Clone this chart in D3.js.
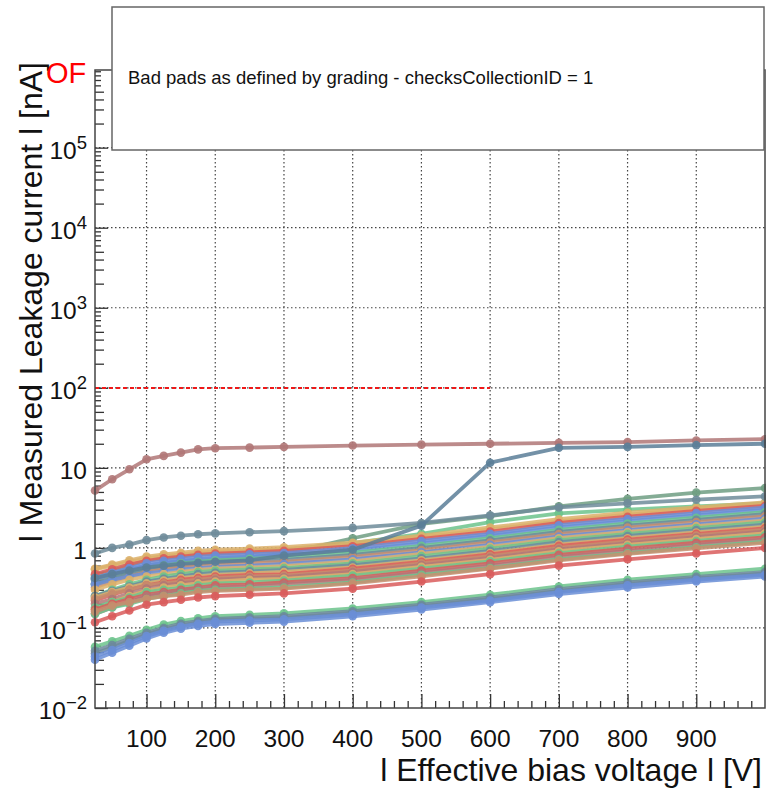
<!DOCTYPE html>
<html>
<head>
<meta charset="UTF-8"/>
<title>Bad pads leakage current</title>
<script src="https://d3js.org/d3.v7.min.js"></script>
<style>
  body { margin: 0; background: #fff; }
  svg { display: block; font-family: "Liberation Sans", Arial, Helvetica, sans-serif; }
  .ticks line { stroke: #333; stroke-width: 1.3; }
  .ticks .domain { display: none; }
  .grid line { stroke: #444; stroke-width: 1.2; stroke-dasharray: 1.5 2.5; }
  .tlabel { font-size: 24.5px; fill: #111; }
  .title { font-size: 32px; fill: #111; }
  .curve { fill: none; stroke-width: 3.8; stroke-opacity: 0.85; stroke-linejoin: round; }
  .dot { fill-opacity: 0.9; }
</style>
</head>
<body>
<svg width="766" height="790"></svg>
<script>
// bias voltages of every scan point [V]
const voltages = [25, 50, 75, 100, 125, 150, 175, 200, 250, 300, 400, 500, 600, 700, 800, 900, 1000];

// special pads
const padRose = [5.2, 7.2, 9.6, 12.8, 14.1, 15.5, 17.0, 17.6, 17.9, 18.3, 19.0, 19.5, 20.0, 20.5, 21.0, 22.0, 22.8];
const padJump = [0.42, 0.47, 0.52, 0.57, 0.6, 0.63, 0.65, 0.67, 0.7, 0.8, 0.95, 1.9, 11.6, 17.8, 18.3, 19.2, 20.0];
const padSlateTop = [0.85, 1.0, 1.1, 1.25, 1.35, 1.42, 1.48, 1.52, 1.57, 1.62, 1.78, 2.05, 2.55, 3.2, 3.6, 4.0, 4.4];
const padGreenRise = [0.4, 0.46, 0.52, 0.6, 0.64, 0.68, 0.7, 0.72, 0.76, 0.85, 1.32, 2.0, 2.5, 3.3, 4.1, 4.9, 5.6];
const padGreenRise2 = [0.45, 0.52, 0.6, 0.7, 0.75, 0.8, 0.84, 0.86, 0.9, 0.95, 1.15, 1.5, 2.1, 2.7, 3.0, 3.3, 3.6];

// main bundle
const bundleColors = ['tan', 'tan', 'red', 'blue', 'blue', 'green', 'slate', 'brown', 'blue', 'tan', 'green', 'slate',
  'tan', 'red', 'brown', 'rose', 'tan', 'green', 'red', 'rose', 'green', 'brown', 'red'];
const bundleCurves = [
  [0.55, 0.62, 0.7, 0.78, 0.83, 0.87, 0.92, 0.95, 0.98, 1.02, 1.16, 1.42, 1.8, 2.28, 2.75, 3.2, 3.7],
  [0.54, 0.6, 0.67, 0.74, 0.79, 0.83, 0.87, 0.9, 0.93, 0.97, 1.1, 1.36, 1.7, 2.15, 2.6, 3.05, 3.5],
  [0.47, 0.54, 0.62, 0.69, 0.74, 0.78, 0.82, 0.85, 0.88, 0.92, 1.05, 1.3, 1.6, 2.05, 2.45, 2.9, 3.35],
  [0.42, 0.49, 0.56, 0.64, 0.69, 0.73, 0.77, 0.8, 0.83, 0.86, 0.99, 1.22, 1.5, 1.92, 2.3, 2.72, 3.2],
  [0.41, 0.47, 0.54, 0.6, 0.65, 0.69, 0.72, 0.75, 0.78, 0.81, 0.93, 1.14, 1.41, 1.8, 2.16, 2.55, 3.0],
  [0.35, 0.41, 0.48, 0.55, 0.6, 0.64, 0.67, 0.7, 0.73, 0.76, 0.87, 1.06, 1.32, 1.68, 2.02, 2.38, 2.8],
  [0.36, 0.42, 0.47, 0.53, 0.57, 0.6, 0.63, 0.66, 0.69, 0.71, 0.82, 1.0, 1.24, 1.58, 1.9, 2.24, 2.64],
  [0.32, 0.38, 0.44, 0.5, 0.54, 0.57, 0.6, 0.62, 0.64, 0.67, 0.77, 0.94, 1.17, 1.49, 1.79, 2.1, 2.48],
  [0.35, 0.4, 0.44, 0.48, 0.51, 0.54, 0.56, 0.58, 0.6, 0.63, 0.72, 0.88, 1.09, 1.39, 1.67, 1.97, 2.32],
  [0.3, 0.35, 0.4, 0.44, 0.47, 0.5, 0.53, 0.55, 0.57, 0.59, 0.68, 0.84, 1.03, 1.32, 1.58, 1.87, 2.2],
  [0.25, 0.3, 0.35, 0.4, 0.44, 0.47, 0.5, 0.52, 0.54, 0.56, 0.64, 0.79, 0.98, 1.25, 1.5, 1.77, 2.08],
  [0.25, 0.29, 0.33, 0.38, 0.41, 0.44, 0.47, 0.49, 0.51, 0.53, 0.61, 0.74, 0.92, 1.18, 1.41, 1.67, 1.96],
  [0.24, 0.28, 0.32, 0.36, 0.39, 0.42, 0.44, 0.46, 0.48, 0.5, 0.57, 0.7, 0.86, 1.1, 1.32, 1.56, 1.84],
  [0.22, 0.26, 0.3, 0.34, 0.37, 0.4, 0.42, 0.44, 0.46, 0.47, 0.55, 0.67, 0.83, 1.06, 1.27, 1.5, 1.76],
  [0.23, 0.27, 0.3, 0.34, 0.36, 0.38, 0.4, 0.42, 0.44, 0.45, 0.52, 0.64, 0.79, 1.0, 1.21, 1.43, 1.68],
  [0.2, 0.23, 0.27, 0.31, 0.34, 0.36, 0.38, 0.4, 0.42, 0.43, 0.5, 0.61, 0.75, 0.96, 1.15, 1.36, 1.6],
  [0.17, 0.21, 0.25, 0.29, 0.32, 0.34, 0.36, 0.38, 0.4, 0.41, 0.47, 0.58, 0.71, 0.91, 1.09, 1.29, 1.52],
  [0.18, 0.21, 0.24, 0.28, 0.3, 0.32, 0.34, 0.36, 0.37, 0.39, 0.45, 0.55, 0.68, 0.86, 1.04, 1.22, 1.44],
  [0.17, 0.2, 0.23, 0.26, 0.28, 0.3, 0.32, 0.34, 0.35, 0.37, 0.42, 0.52, 0.64, 0.82, 0.98, 1.16, 1.36],
  [0.15, 0.18, 0.21, 0.25, 0.27, 0.29, 0.31, 0.32, 0.33, 0.35, 0.4, 0.49, 0.6, 0.77, 0.92, 1.09, 1.28],
  [0.15, 0.18, 0.2, 0.23, 0.25, 0.27, 0.29, 0.3, 0.31, 0.32, 0.37, 0.46, 0.56, 0.72, 0.86, 1.02, 1.2],
  [0.16, 0.19, 0.21, 0.23, 0.25, 0.26, 0.28, 0.29, 0.3, 0.31, 0.36, 0.44, 0.55, 0.7, 0.84, 0.99, 1.16],
  [0.118, 0.14, 0.165, 0.195, 0.21, 0.225, 0.24, 0.25, 0.26, 0.27, 0.31, 0.38, 0.47, 0.6, 0.72, 0.85, 1.0]
];

// low-current bundle
const lowColors = ['green', 'slate', 'slate', 'blue', 'blue'];
const lowCurves = [
  [0.058, 0.068, 0.08, 0.095, 0.11, 0.122, 0.132, 0.14, 0.146, 0.152, 0.175, 0.21, 0.26, 0.33, 0.4, 0.47, 0.55],
  [0.052, 0.061, 0.073, 0.087, 0.1, 0.113, 0.122, 0.13, 0.135, 0.14, 0.162, 0.195, 0.24, 0.305, 0.37, 0.435, 0.5],
  [0.048, 0.057, 0.069, 0.083, 0.096, 0.108, 0.117, 0.125, 0.13, 0.134, 0.155, 0.187, 0.23, 0.29, 0.355, 0.415, 0.48],
  [0.044, 0.053, 0.065, 0.079, 0.092, 0.104, 0.113, 0.12, 0.124, 0.128, 0.148, 0.18, 0.22, 0.28, 0.34, 0.4, 0.46],
  [0.04, 0.049, 0.06, 0.074, 0.087, 0.098, 0.106, 0.112, 0.116, 0.12, 0.14, 0.17, 0.21, 0.265, 0.32, 0.38, 0.44]
];

// axes
const xTicks = [100, 200, 300, 400, 500, 600, 700, 800, 900];
const yTicks = [1e-2, 1e-1, 1, 10, 1e2, 1e3, 1e4, 1e5];
const yTickBase = ['10', '10', '1', '10', '10', '10', '10', '10'];
const yTickExp = ['\u22122', '\u22121', '', '', '2', '3', '4', '5'];
const limitValue = 100;
const limitEnd = 600;

const palette = {
  red: '#d95c5c', green: '#6cc38c', tan: '#dcb06a', blue: '#6a8ed6',
  slate: '#6d8a9c', brown: '#c58d6d', rose: '#b07777', steel: '#5b7e98'
};

const svg = d3.select('svg');
const frameL = 95, frameR = 765, frameT = 70, frameB = 708;

const x = d3.scaleLinear().domain([25, 1000]).range([frameL, frameR]);
const y = d3.scaleLog().domain([1e-2, Math.pow(10, 5.97)]).range([frameB, frameT]);

// grid
const grid = svg.append('g').attr('class', 'grid');
grid.selectAll('.gx').data(xTicks).enter().append('line')
  .attr('x1', d => x(d)).attr('x2', d => x(d)).attr('y1', frameT).attr('y2', frameB);
grid.selectAll('.gy').data(yTicks.slice(1)).enter().append('line')
  .attr('x1', frameL).attr('x2', frameR).attr('y1', d => y(d)).attr('y2', d => y(d));

// minor tick positions
const yMinorA = [], yMinorB = [];
yTicks.forEach(t => {
  for (let k = 2; k <= 9; k++) {
    const v = t * k;
    if (v < y.domain()[1]) (k <= 5 ? yMinorA : yMinorB).push(v);
  }
});
const xMinor = d3.range(40, 1000, 20).filter(v => v % 100 !== 0);

const ticks = svg.append('g').attr('class', 'ticks');
ticks.append('g').attr('transform', `translate(${frameL},0)`)
  .call(d3.axisRight(y).tickValues(yTicks).tickSize(13).tickFormat(''));
ticks.append('g').attr('transform', `translate(${frameL},0)`)
  .call(d3.axisRight(y).tickValues(yMinorA).tickSize(9).tickFormat(''));
ticks.append('g').attr('transform', `translate(${frameL},0)`)
  .call(d3.axisRight(y).tickValues(yMinorB).tickSize(6).tickFormat(''));
ticks.append('g').attr('transform', `translate(0,${frameB})`)
  .call(d3.axisTop(x).tickValues(xTicks).tickSize(14).tickFormat(''));
ticks.append('g').attr('transform', `translate(0,${frameB})`)
  .call(d3.axisTop(x).tickValues(xMinor).tickSize(7).tickFormat(''));

// limit line
svg.append('line')
  .attr('x1', x(25)).attr('x2', x(limitEnd))
  .attr('y1', Math.round(y(limitValue))).attr('y2', Math.round(y(limitValue)))
  .attr('stroke', '#f01818').attr('stroke-width', 2).attr('stroke-dasharray', '4 3');

// curves
const line = d3.line().x((d, i) => x(voltages[i])).y(d => y(d));
const curves = [];
lowCurves.forEach((c, i) => curves.push({ v: c, col: palette[lowColors[i]] }));
curves.push({ v: padGreenRise2, col: palette.green });
curves.push({ v: padGreenRise, col: '#6f9e82' });
bundleCurves.forEach((c, i) => curves.push({ v: c, col: palette[bundleColors[i]] }));
curves.push({ v: padSlateTop, col: '#6f8c9a' });
curves.push({ v: padRose, col: palette.rose });
curves.push({ v: padJump, col: palette.steel });

const cg = svg.append('g').selectAll('g').data(curves).enter().append('g');
cg.append('path').attr('class', 'curve')
  .attr('d', d => line(d.v)).attr('stroke', d => d.col);
cg.selectAll('circle').data(d => d.v.map((v, i) => ({ v, i, col: d.col }))).enter()
  .append('circle').attr('class', 'dot')
  .attr('cx', d => x(voltages[d.i])).attr('cy', d => y(d.v))
  .attr('r', 4.3).attr('fill', d => d.col);

// frame
svg.append('rect')
  .attr('x', frameL).attr('y', frameT).attr('width', frameR - frameL).attr('height', frameB - frameT)
  .attr('fill', 'none').attr('stroke', '#444').attr('stroke-width', 1.5);

// tick labels
svg.selectAll('.xl').data(xTicks).enter().append('text')
  .attr('class', 'tlabel').attr('x', d => x(d)).attr('y', 747)
  .attr('text-anchor', 'middle').text(d => d);

const yl = svg.selectAll('.yl').data(yTicks).enter().append('text')
  .attr('class', 'tlabel').attr('x', 87).attr('y', d => y(d) + 11)
  .attr('text-anchor', 'end');
yl.append('tspan').text((d, i) => yTickBase[i]);
yl.append('tspan').attr('dy', -10).attr('font-size', 18.5).text((d, i) => yTickExp[i]);

// axis titles
svg.append('text').attr('class', 'title')
  .attr('x', 762).attr('y', 781).attr('text-anchor', 'end')
  .text('l Effective bias voltage l [V]');
svg.append('text').attr('class', 'title')
  .attr('transform', 'rotate(-90)')
  .attr('x', -62).attr('y', 42).attr('text-anchor', 'end')
  .text('l Measured Leakage current l [nA]');

// overflow marker
svg.append('text').attr('x', 46).attr('y', 83)
  .attr('fill', '#f00').attr('font-size', 29).text('OF');

// legend box
svg.append('rect').attr('x', 112).attr('y', 7).attr('width', 652).attr('height', 143)
  .attr('fill', '#fff').attr('stroke', '#666').attr('stroke-width', 1.5);
svg.append('text').attr('x', 128).attr('y', 84)
  .attr('font-size', 18.5).attr('fill', '#111')
  .text('Bad pads as defined by grading - checksCollectionID = 1');
</script>
</body>
</html>
